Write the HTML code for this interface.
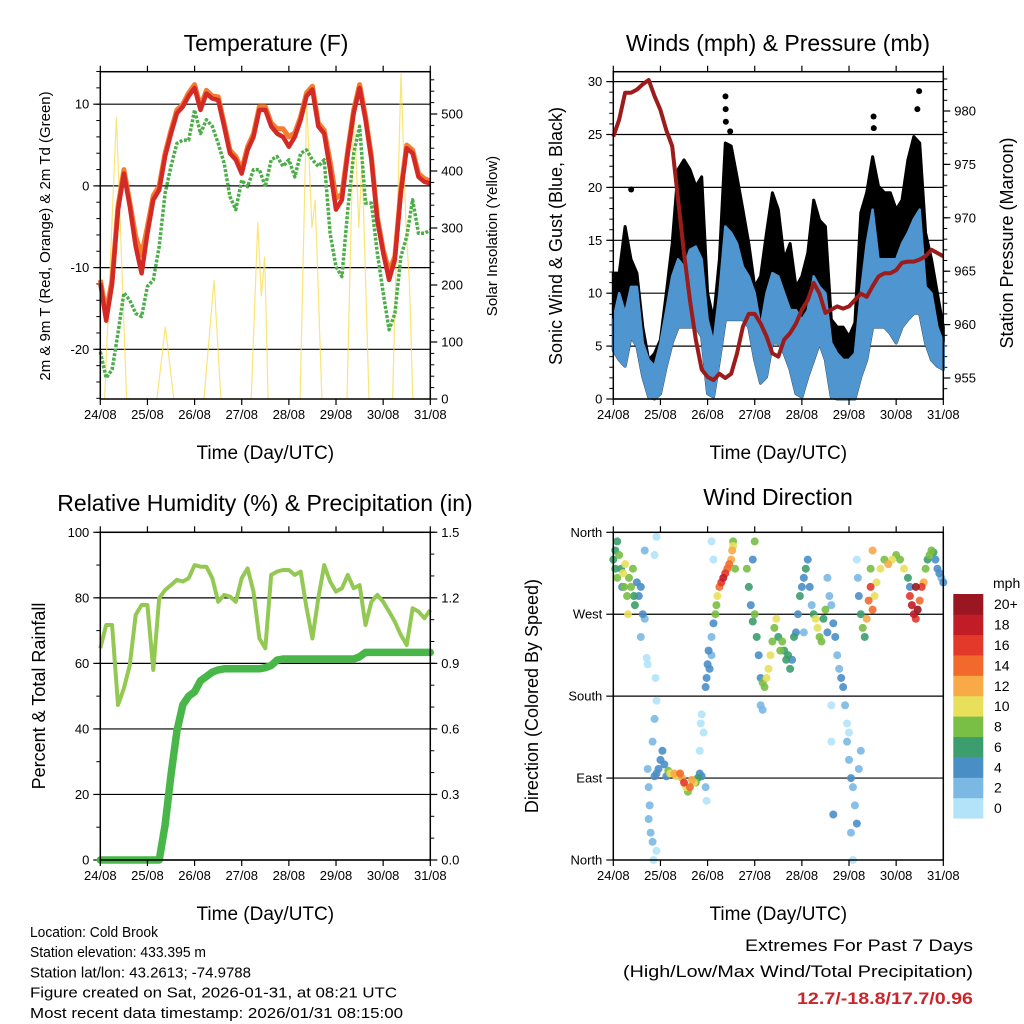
<!DOCTYPE html>
<html><head><meta charset="utf-8"><style>
html,body{margin:0;padding:0;background:#fff}
svg{display:block;font-family:"Liberation Sans",sans-serif}
</style></head><body>
<svg id="fig" width="1024" height="1024" viewBox="0 0 1024 1024"></svg>
<script>
// ---- data (3-hourly, hours 0..168 from 24/08 00 UTC) ----
const dayLabels = ["24/08","25/08","26/08","27/08","28/08","29/08","30/08","31/08"];
const temp2m = [-11.9,-16.5,-12,-3,1.5,-2.5,-7.4,-10.7,-5.8,-1.7,-0.5,3.6,6.4,8.9,9.7,11,12,9.3,11.3,10.7,10.5,7.3,4,3.2,1.5,4.4,6,9.3,9.3,7.3,6.4,6,4.8,6,8.1,11,11.8,7.3,6.4,2,-2.9,-1.7,4,8.9,12,8.1,3.2,-4.2,-8.2,-11.5,-9,-0.9,4.6,4,1.1,0.5,0.3];
const temp9m = [-11.5,-15.5,-11.5,-2.5,2,-2,-6.2,-8.5,-5,-1.2,0,4,6.8,9.3,10,11.4,12.4,9.7,11.7,11,10.9,7.7,4.4,3.6,2,4.8,6.4,9.7,9.7,7.7,7,7,6,6.5,8.5,11.4,12.2,7.7,6.8,3,-1.5,-1,4.4,9.3,12.4,8.5,3.6,-3.8,-7.8,-10.5,-8.6,-0.5,5,4.4,1.5,0.9,0.6];
const dewpoint = [-20.3,-23.5,-22.5,-18,-13.1,-14,-15.6,-16,-12.3,-11.5,-7.4,-0.9,2.4,5.2,5.6,5.6,9.3,6.4,8.1,7.3,5.2,2.8,-1.3,-2.9,0.7,-0.1,2,2,-0.1,3.2,3.6,2.4,3.2,1.1,4,4.4,3.2,2.4,3.2,-5.8,-9.9,-11.1,-2.9,4,7.3,-2.1,-2.1,-8.2,-13.1,-17.6,-15.6,-8.7,-6.2,-1.7,-5.8,-5.8,-5.4];
const solarHours = [0,2.2,8.2,13.4,28.8,33.1,37.4,52.8,57.9,61.4,76.8,80.2,82,83.7,85.4,101.7,105.1,107.7,109.4,112.8,125.6,129.1,131.6,133.3,136.8,148.8,153.1,155.7,157.4,159.1,168];
const solarValues = [0,0,495,0,0,127,0,0,209,0,0,310,180,250,0,0,525,300,350,0,0,520,300,420,0,0,571,300,200,0,0];
const pressure = [977.6,979.2,981.7,981.7,982,982.5,982.9,981.4,980.1,978.2,976.7,971.7,966.7,962.3,958.6,955.8,955.1,954.8,955.4,955,955.4,957.3,959.8,961,961,960.1,958.9,957.3,957,958.6,959.2,960.1,961.4,962.3,963.9,962.9,961.1,961.4,961.7,961.5,961.7,962.3,962.9,962.6,963.6,964.5,964.8,964.8,965.1,965.8,965.9,965.9,966.1,966.4,967,966.7,966.4];
const windLow = [4.6,3.7,3.1,5.9,5,2.1,0.2,0,0.5,3.1,5.3,6.8,6.8,6.8,6.8,5.9,0.5,0.2,3.7,7.5,7.5,7.5,7.5,6.8,3.7,1.5,2.1,5.3,5.3,4.3,2.8,0.5,0.2,2.1,3.7,5.3,3.7,0.2,0,0,0,0,2.1,3.7,6.8,6.8,6.8,6.2,5.3,6.8,7.5,8.1,8.1,5.3,3.7,3.1,2.8];
const windHigh = [7.5,10,8.1,10.6,10.6,5.3,3.7,3.1,5.3,8.4,11.6,13.2,12.5,14.1,14.4,13.2,7.5,5.3,10,16.3,15.7,14.7,12.5,11.6,10,6.8,10,11.9,11.6,10,8.4,8.4,7.5,8.4,11.6,10.6,10,5.3,4.3,3.7,3.7,4.3,10,14.7,17.9,13.2,13.2,13.2,13.2,14.7,15.7,17,17.9,10.6,10,6.8,5.3];
const gustHigh = [11.9,11.9,16.3,13.2,11.9,6.8,3.7,4.3,5.6,10,14.7,21.7,22.6,21.7,20.1,21,10,7.5,13.2,24.2,23.9,21,17.9,14.7,10.6,11.6,15.7,19.5,17.9,13.2,14.7,10.6,11.6,13.8,18.8,16.9,16.3,7.5,6.8,6.8,5.9,7.2,17.6,19.5,22.9,20.1,19.5,19.5,17.9,18.8,22.6,24.8,24.2,15.7,13.2,10,6.8];
const gustOutlierHours = [9.1,57.1,57.2,57.3,59.5,132.5,132.6,155.7,154.8];
const gustOutlierValues = [19.8,28.6,27.4,26.2,25.3,26.7,25.6,29.1,27.4];
const humidity = [64.6,71.7,71.7,47.3,52.4,59.5,74.8,77.8,77.8,58,79.9,82.4,83.9,85.5,85,86,90,89.5,89.5,86,78.8,80.9,80.4,78.8,86,89,81.9,67.6,64.6,87,88,88.5,88.5,87,88,76.8,67.6,79.9,90,85,81.9,82.9,87,82.9,83.9,71.7,78.8,80.9,78.8,75.8,72.7,68.7,65.6,76.8,75.8,73.8,76.3];
const rainTotal = [0,0,0,0,0,0,0,0,0,0,0,0.16,0.39,0.59,0.71,0.75,0.77,0.82,0.84,0.86,0.87,0.875,0.875,0.875,0.875,0.875,0.875,0.875,0.88,0.89,0.915,0.92,0.92,0.92,0.92,0.92,0.92,0.92,0.92,0.92,0.92,0.92,0.92,0.92,0.93,0.95,0.95,0.95,0.95,0.95,0.95,0.95,0.95,0.95,0.95,0.95,0.95];
// wind direction observations: [hour, degrees, speed mph]
const windDirObs = [
[0,330,6],[1,340,7],[2,350,7],[3,335,8],[4,320,6],[2,310,8],[1,320,6],[4.5,300,4],
[5,315,10],[5.5,300,9],[6,325,10],[7,290,8],[7.5,270,10],[8,310,9],[9,300,9],[10,320,8],[10.5,290,6],[11,280,6],[12,305,4],[13,290,4],[14,300,4],[15,270,4],[16,265,2],[14,245,2],
[16,340,2],[21,335,1],[22,355,0],[17,222,1],[17.5,215,1],[21.5,200,1],[22,175,1],[21,155,2],[20,130,2],
[17.5,100,2],[18,80,2],[18.5,60,2],[18,45,3],[19,30,2],[20,20,2],[20.5,0,1],[22,10,1],
[21,92,4],[22,95,4],[23,100,4],[24,110,4],[25,120,4],[26,105,4],[27,92,5],
[28,98,8],[29,95,10],[30,95,10],[31,95,12],[32,92,11],[33,94,10],[34,95,14],[35,90,12],[36,85,16],[37,80,11],[38,75,9],[39,80,15],[40,88,13],[41,85,11],[42,85,8],[43,90,6],[44,95,4],[45,92,5],
[44,120,1],[44.5,150,1],[45,160,1],[46,140,1],[47,80,2],[47.5,65,1],
[47,190,4],[47.5,200,4],[48,215,4],[48.5,230,4],[49,210,4],[50,225,3],[50,245,2],[51,260,5],[52,270,8],[52.5,280,9],[53,290,11],[54,300,14],[55,305,16],[56,310,18],[57,315,17],[58,320,15],[59,325,14],[60,330,12],[60.5,340,12],[61,345,11],[62,320,9],[61,350,8],[51,330,1],[50,350,1],
[68,320,8],[69,300,6],[70,280,4],[71,262,6],[72,270,8],[72,350,8],[71,330,4],
[73,245,6],[74,225,5],[75,200,4],[76,195,8],[77,190,9],[78,200,10],[79,210,10],[80,225,10],[81,240,9],[82,255,8],[83,265,10],[84,245,7],[85,230,8],[75,170,2],[76,165,2],
[86,240,8],[87,230,6],[88,220,6],[89,225,7],[90,210,6],[91,220,5],[92,245,6],
[93,250,4],[94,270,5],[95,290,6],[96,300,4],[97,310,5],[98,320,6],[99,330,4],[100,300,4],[101,280,3],[97,250,2],
[102,270,7],[103,265,10],[104,255,11],[105,245,9],[106,240,8],[107,265,7],[108,275,8],[109,250,4],
[109,310,2],[110,290,2],[111,280,3],[112,260,4],[113,245,4],[114,225,2],[115,210,3],[116,200,4],[117,190,4],[118,170,2],[119,150,1],[119,130,2],[111,170,1],[112,50,4],[111,130,1],
[120,110,2],[121,90,4],[122,80,3],[123,60,2],[124,40,4],[125,100,3],[126,120,2],[121,30,2],[122,0,1],[120,140,1],
[124,330,1],[124.5,310,3],[125,290,4],[126,270,6],[127,255,8],[128,245,6],[129,265,12],[130,285,14],[131,300,16],[132,275,15],[133,290,10],[132,340,13],[131,320,9],
[134,305,10],[136,320,10],[138,330,9],[140,325,12],[142,330,10],[144,335,8],[146,330,9],[148,320,10],[150,310,6],[151,300,4],
[151,290,16],[152,280,18],[153,270,19],[154,265,17],[155,275,20],[156,285,14],[157,300,16],[158,305,12],[154,300,20],
[159,320,8],[160,330,7],[161,335,9],[162,340,8],[163,338,6],[164,330,5],[165,320,4],[166,315,4],[167,310,3],[168,305,4]];
const speedLevels = ["0","2","4","6","8","10","12","14","16","18","20+"];
const speedColors = ["#b3e3f8","#7bb8e3","#4a8ec6","#3c9d6e","#79be45","#e8e05b","#f8aa47","#f26a2b","#e2392a","#c21c27","#9a1620"];

// ---- helpers ----
const NS="http://www.w3.org/2000/svg";
const svg=document.getElementById('fig');
function mk(tag,attrs,parent){const e=document.createElementNS(NS,tag);for(const k in attrs)e.setAttribute(k,attrs[k]);(parent||svg).appendChild(e);return e;}
function txt(s,x,y,size,anchor,parent,extra){const t=mk('text',Object.assign({x:x,y:y,'font-size':size,'text-anchor':anchor||'middle',fill:'#000'},extra||{}),parent);t.textContent=s;return t;}
const hours=temp2m.map((_,i)=>i*3);
function polyPts(xs,ys){return xs.map((x,i)=>x.toFixed(1)+','+ys[i].toFixed(1)).join(' ');}

function panel(name,L,T,R,B){
  const g=mk('g',{});
  
  
  return {g:g,L:L,T:T,R:R,B:B,x:h=>L+h*(R-L)/168};
}
function frame(p){
  const f=mk('rect',{x:p.L,y:p.T,width:p.R-p.L,height:p.B-p.T,fill:'none',stroke:'#000','stroke-width':1.5},p.g);
  
  
  for(let d=0;d<=7;d++){
    const x=p.x(d*24);
    mk('line',{x1:x,y1:p.T,x2:x,y2:p.T-6,stroke:'#000','stroke-width':1.2},p.g);
    mk('line',{x1:x,y1:p.B,x2:x,y2:p.B+6,stroke:'#000','stroke-width':1.2},p.g);
    const t=txt(dayLabels[d],x,p.B+20,13,'middle',p.g);
    
    
  }
  const xt=txt('Time (Day/UTC)',(p.L+p.R)/2,p.B+60,19,'middle',p.g);
  
  
}
function yTicks(p,side,vals,yf,labels,minor,grid){
  const x0=side==='L'?p.L:p.R, dir=side==='L'?-1:1;
  if(minor) minor.forEach(v=>{const y=yf(v);mk('line',{x1:x0,y1:y,x2:x0+dir*4,y2:y,stroke:'#000','stroke-width':1},p.g);});
  vals.forEach((v,i)=>{const y=yf(v);
    if(grid) mk('line',{x1:p.L,y1:y,x2:p.R,y2:y,stroke:'#000','stroke-width':1.2},p.g);
    mk('line',{x1:x0,y1:y,x2:x0+dir*7,y2:y,stroke:'#000','stroke-width':1.2},p.g);
    const t=txt(labels[i],x0+dir*11,y+4.5,13,side==='L'?'end':'start',p.g);
    
    
  });
}
function vtitle(s,x,y,size,parent,name){const t=txt(s,x,y,size,'middle',parent,{transform:`rotate(-90 ${x} ${y})`});return t;}
function title(s,x,y,parent){const t=txt(s,x,y,23,'middle',parent);}
function range(a,b,s){const r=[];for(let v=a;v<=b+1e-9;v+=s)r.push(+v.toFixed(3));return r;}

// ---- Panel 1: Temperature ----
{
const p=panel('temperature-panel',100.3,71.7,430.3,399);
const yT=t=>185.9-t*8.17, yS=v=>399-v*0.57;
title('Temperature (F)',266,51,p.g);
yTicks(p,'L',[-20,-10,0,10],yT,['-20','-10','0','10'],range(-26,14,2),true);
yTicks(p,'R',[0,100,200,300,400,500],yS,['0','100','200','300','400','500'],range(0,570,20),false);
const sol=mk('polyline',{points:polyPts(solarHours.map(p.x),solarValues.map(yS)),fill:'none',stroke:'#f8dc4a','stroke-width':1.2,opacity:0.75},p.g);


const td=mk('polyline',{points:polyPts(hours.map(p.x),dewpoint.map(yT)),fill:'none',stroke:'#4cae48','stroke-width':3.5,'stroke-dasharray':'3 1.6','stroke-linejoin':'round'},p.g);


const t9=mk('polyline',{points:polyPts(hours.map(p.x),temp9m.map(yT)),fill:'none',stroke:'#f47d30','stroke-width':5,'stroke-linejoin':'round'},p.g);


const t2=mk('polyline',{points:polyPts(hours.map(p.x),temp2m.map(yT)),fill:'none',stroke:'#d42a25','stroke-width':4.5,'stroke-linejoin':'round'},p.g);


frame(p);
vtitle('2m & 9m T (Red, Orange) & 2m Td (Green)',50,236,15,p.g,'y-axis-title-left');
vtitle('Solar Insolation (Yellow)',497,236,15,p.g,'y-axis-title-right');
}

// ---- Panel 2: Winds & Pressure ----
{
const p=panel('winds-pressure-panel',613.3,71.7,943.3,399);
const yW=v=>399-v*10.58, yP=v=>378-(v-955)*10.68;
title('Winds (mph) & Pressure (mb)',778,51,p.g);
yTicks(p,'L',[0,5,10,15,20,25,30],yW,['0','5','10','15','20','25','30'],range(0,30,1),true);
yTicks(p,'R',[955,960,965,970,975,980],yP,['955','960','965','970','975','980'],range(954,983,1),false);
const xs=hours.map(p.x);
const gust=mk('polygon',{points:polyPts(xs.concat(xs.slice().reverse()),gustHigh.map(yW).concat(windLow.map(yW).reverse())),fill:'#000',stroke:'#000','stroke-width':3,'stroke-linejoin':'round'},p.g);


gustOutlierHours.forEach((h,i)=>{const c=mk('circle',{cx:p.x(h),cy:yW(gustOutlierValues[i]),r:3,fill:'#000'},p.g);
  
  });
const sus=mk('polygon',{points:polyPts(xs.concat(xs.slice().reverse()),windHigh.map(yW).concat(windLow.map(yW).reverse())),fill:'#4f95d0',stroke:'#4f95d0','stroke-width':2.5,'stroke-linejoin':'round'},p.g);


const pr=mk('polyline',{points:polyPts(xs,pressure.map(yP)),fill:'none',stroke:'#9c1b1b','stroke-width':4,'stroke-linejoin':'round'},p.g);


frame(p);
vtitle('Sonic Wind & Gust (Blue, Black)',562,236,18,p.g,'y-axis-title-left');
vtitle('Station Pressure (Maroon)',1013,243,18,p.g,'y-axis-title-right');
}

// ---- Panel 3: RH & Precip ----
{
const p=panel('humidity-precip-panel',100.3,532.3,430.3,860);
const yH=v=>860-v*3.277, yR=v=>860-v*218.5;
title('Relative Humidity (%) & Precipitation (in)',265,511,p.g);
yTicks(p,'L',[0,20,40,60,80,100],yH,['0','20','40','60','80','100'],range(0,100,10),true);
yTicks(p,'R',[0,0.3,0.6,0.9,1.2,1.5],yR,['0.0','0.3','0.6','0.9','1.2','1.5'],range(0,1.5,0.1),false);
const xs=hours.map(p.x);
const rh=mk('polyline',{points:polyPts(xs,humidity.map(yH)),fill:'none',stroke:'#93c952','stroke-width':4,'stroke-linejoin':'round'},p.g);


const rn=mk('polyline',{points:polyPts(xs,rainTotal.map(yR)),fill:'none',stroke:'#48b648','stroke-width':7.5,'stroke-linejoin':'round','stroke-linecap':'round'},p.g);


frame(p);
vtitle('Percent & Total Rainfall',45,696,18,p.g,'y-axis-title-left');
}

// ---- Panel 4: Wind Direction ----
{
const p=panel('wind-direction-panel',613.3,532.3,943.3,860);
const yD=d=>860-d*(327.7/360);
title('Wind Direction',778,505,p.g);
yTicks(p,'L',[0,90,180,270,360],yD,['North','East','South','West','North'],null,false);
[90,180,270].forEach(d=>mk('line',{x1:p.L,y1:yD(d),x2:p.R,y2:yD(d),stroke:'#000','stroke-width':1.2},p.g));
const sorted=windDirObs.slice().sort((a,b)=>a[2]-b[2]);
sorted.forEach(o=>{
  const bin=Math.min(10,Math.floor(o[2]/2));
  const c=mk('circle',{cx:p.x(o[0]),cy:yD(o[1]),r:4,fill:speedColors[bin],opacity:0.9},p.g);
  
  
});
frame(p);
vtitle('Direction (Colored By Speed)',538,696,18,p.g,'y-axis-title-left');
// colorbar
const cb=mk('g',{},p.g);


const bh=224.3/11;
speedLevels.forEach((lab,i)=>{
  const y=818.3-(i+1)*bh;
  const r=mk('rect',{x:953.3,y:y,width:30,height:bh+0.3,fill:speedColors[i]},cb);
  
  
  const t=txt(lab,994,y+bh/2+5,14,'start',cb);
  
  
});
const u=txt('mph',993,588,14,'start',cb);


}

// ---- footer text ----
const info=[["Location: Cold Brook",128],["Station elevation: 433.395 m",176],["Station lat/lon: 43.2613; -74.9788",221],["Figure created on Sat, 2026-01-31, at 08:21 UTC",367],["Most recent data timestamp: 2026/01/31 08:15:00",373]];
info.forEach((l,i)=>{const t=txt(l[0],30,937+i*20.2,15,'start',null,{textLength:l[1],lengthAdjust:'spacingAndGlyphs'});
  
  });
const e1=txt('Extremes For Past 7 Days',973,951,17,'end',null,{textLength:228,lengthAdjust:'spacingAndGlyphs'});


const e2=txt('(High/Low/Max Wind/Total Precipitation)',973,977,17,'end',null,{textLength:350,lengthAdjust:'spacingAndGlyphs'});


const e3=txt('12.7/-18.8/17.7/0.96',973,1004,17,'end',null,{fill:'#c9252a','font-weight':'bold',textLength:176,lengthAdjust:'spacingAndGlyphs'});


</script>
</body></html>
